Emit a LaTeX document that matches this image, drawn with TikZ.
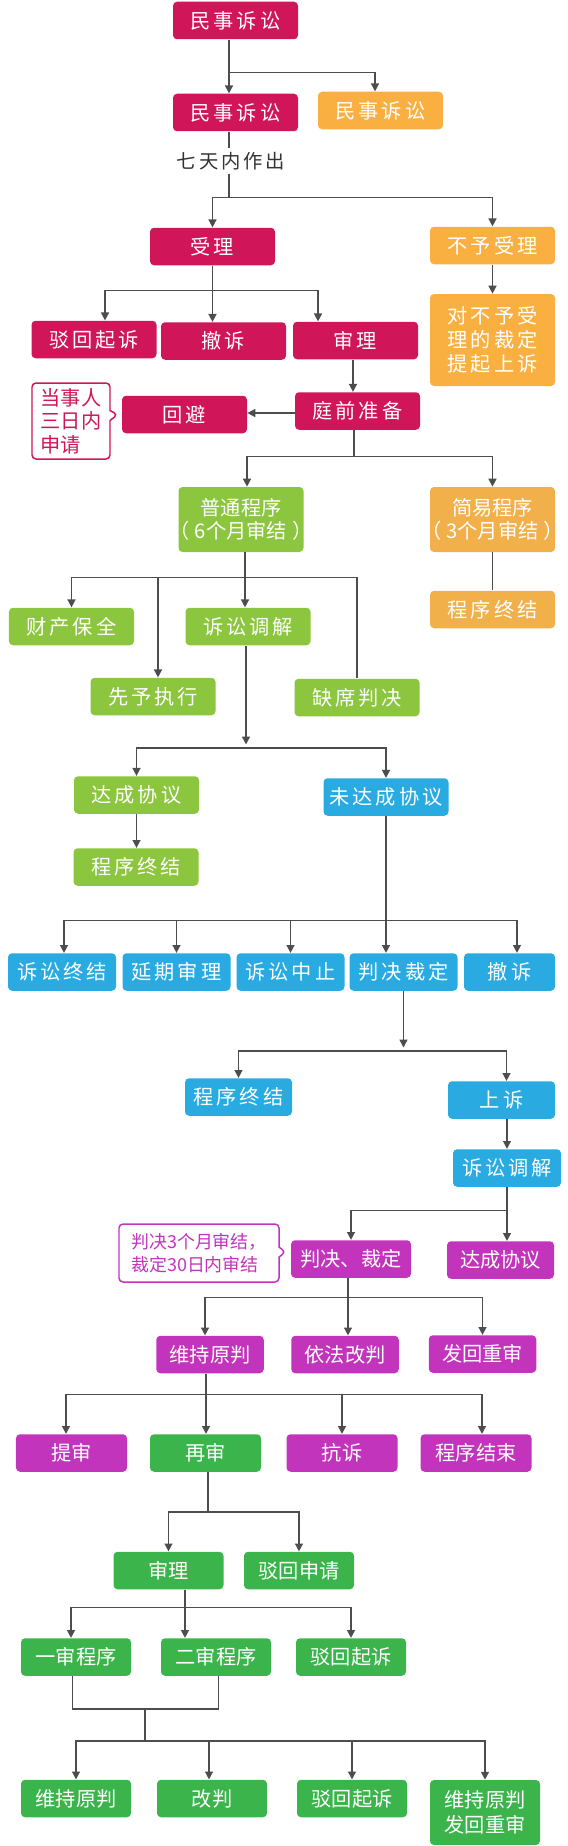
\documentclass[tikz,border=0pt]{standalone}
\usepackage{fontspec}
\newfontfamily\cjk[LetterSpace=15]{Noto Sans CJK SC}
\newfontfamily\cjkt{Noto Sans CJK SC}
\usetikzlibrary{arrows.meta, shapes.callouts}
\definecolor{crim}{HTML}{D01658}
\definecolor{orng}{HTML}{FAB041}
\definecolor{orngb}{HTML}{F1B04A}
\definecolor{lgrn}{HTML}{8CC63E}
\definecolor{blu}{HTML}{29ABE2}
\definecolor{mag}{HTML}{C334BD}
\definecolor{dgrn}{HTML}{3BB44C}
\definecolor{lgray}{HTML}{4D4D4D}
\definecolor{dgray}{HTML}{333333}

\begin{document}
\begin{tikzpicture}[
  box/.style={rounded corners=2.3pt, minimum height=0.75cm, inner sep=0pt,
              align=center, text=white, font=\cjk\fontsize{11.5}{13.5}\selectfont},
  boxt/.style={box, font=\cjkt\fontsize{11.5}{13.5}\selectfont},
  crbox/.style={box, fill=crim, minimum width=2.5cm},
  orbox/.style={box, fill=orng, minimum width=2.5cm},
  obbox/.style={boxt, fill=orngb, minimum width=2.5cm},
  lgbox/.style={box, fill=lgrn, minimum width=2.5cm},
  blbox/.style={box, fill=blu, minimum width=2.16cm},
  mgbox/.style={boxt, fill=mag, minimum width=2.15cm},
  dgbox/.style={boxt, fill=dgrn, minimum width=2.2cm},
  callnote/.style={rectangle callout, fill=white, line width=0.85pt, rounded corners=2.3pt,
                   callout pointer width=0.2cm, align=left, inner sep=0pt},
  lin/.style={line width=0.85pt, draw=lgray},
  arr/.style={lin, -{Triangle[length=4.5pt, width=4.5pt]}}
]
\useasboundingbox (0,0) rectangle (11.34,-36.92);

\node[crbox] (ms1) at (4.71,-0.41) {民事诉讼};
\node[crbox] (ms2) at (4.71,-2.25) {民事诉讼};
\node[orbox] (ms3) at (7.61,-2.21) {民事诉讼};
\node[font=\cjk\fontsize{11}{13}\selectfont, text=dgray, minimum height=0.5cm,
      inner sep=0pt] (qt) at (4.62,-3.22) {七天内作出};
\node[crbox] (sl) at (4.25,-4.93) {受理};
\node[orbox] (bysl) at (9.85,-4.91) {不予受理};
\node[crbox] (bh1) at (1.88,-6.79) {驳回起诉};
\node[crbox] (cs1) at (4.47,-6.82) {撤诉};
\node[crbox] (sl2) at (7.11,-6.81) {审理};
\node[orbox, minimum height=1.84cm] (ss0) at (9.85,-6.80) {对不予受\\理的裁定\\提起上诉};
\node[crbox] (tq) at (7.15,-8.22) {庭前准备};
\node[crbox] (hb) at (3.69,-8.29) {回避};
\node[callnote, draw=crim, text=crim, font=\cjkt\fontsize{11.5}{13.4}\selectfont,
      minimum width=1.56cm, minimum height=1.52cm,
      callout absolute pointer={([xshift=-0.08cm]hb.west)}] (dsr) at (1.42,-8.42)
     {当事人\\三日内\\申请};

\node[lgbox, minimum height=1.3cm, font=\cjkt\fontsize{11.5}{13}\selectfont] (pt) at (4.82,-10.39)
     {普通程序\\\makebox[2.3cm]{（\hspace{0.25em}6个月审结\hspace{0.25em}）}};
\node[obbox, minimum height=1.3cm, font=\cjkt\fontsize{11.5}{13}\selectfont] (jy) at (9.85,-10.39)
     {简易程序\\\makebox[2.3cm]{（\hspace{0.25em}3个月审结\hspace{0.25em}）}};
\node[orbox, fill=orngb] (zj0) at (9.85,-12.19) {程序终结};
\node[lgbox] (cc) at (1.43,-12.53) {财产保全};
\node[lgbox] (xy) at (3.06,-13.93) {先予执行};
\node[lgbox] (tj1) at (4.96,-12.53) {诉讼调解};
\node[lgbox] (qx) at (7.14,-13.95) {缺席判决};
\node[lgbox] (dc1) at (2.73,-15.90) {达成协议};
\node[blbox, minimum width=2.5cm] (wdc) at (7.72,-15.94) {未达成协议};
\node[lgbox] (zj1) at (2.72,-17.34) {程序终结};

\node[blbox] (zj2) at (1.24,-19.44) {诉讼终结};
\node[blbox] (yq) at (3.53,-19.44) {延期审理};
\node[blbox] (zz) at (5.81,-19.44) {诉讼中止};
\node[blbox] (pj1) at (8.07,-19.44) {判决裁定};
\node[blbox, minimum width=1.82cm] (cs2) at (10.19,-19.44) {撤诉};
\node[blbox, minimum width=2.14cm] (zj3) at (4.77,-21.94) {程序终结};
\node[blbox, minimum width=2.14cm] (ss) at (10.03,-22.00) {上诉};
\node[blbox] (tj2) at (10.14,-23.36) {诉讼调解};

\node[mgbox, minimum width=2.4cm] (pj2) at (7.02,-25.18) {判决、裁定};
\node[mgbox, minimum width=2.14cm] (dc2) at (10.01,-25.20) {达成协议};
\node[callnote, draw=mag, text=mag, font=\cjkt\fontsize{10.2}{12.9}\selectfont,
      minimum width=3.2cm, minimum height=1.16cm,
      callout absolute pointer={([xshift=-0.1cm, yshift=0.14cm]pj2.west)}] (sj) at (3.98,-25.06)
     {判决3个月审结，\\裁定30日内审结};
\node[mgbox] (wc1) at (4.20,-27.09) {维持原判};
\node[mgbox] (yf) at (6.90,-27.09) {依法改判};
\node[mgbox] (fh1) at (9.65,-27.08) {发回重审};
\node[mgbox, minimum width=2.22cm] (ts) at (1.43,-29.06) {提审};
\node[dgbox, minimum width=2.22cm] (zs) at (4.11,-29.06) {再审};
\node[mgbox, minimum width=2.22cm] (ks) at (6.84,-29.06) {抗诉};
\node[mgbox, minimum width=2.22cm] (js) at (9.52,-29.06) {程序结束};

\node[dgbox] (sl3) at (3.37,-31.41) {审理};
\node[dgbox] (bhsq) at (5.98,-31.41) {驳回申请};
\node[dgbox] (ys) at (1.52,-33.14) {一审程序};
\node[dgbox] (es) at (4.32,-33.14) {二审程序};
\node[dgbox] (bh2) at (7.02,-33.14) {驳回起诉};
\node[dgbox] (wc2) at (1.52,-35.97) {维持原判};
\node[dgbox] (gp) at (4.24,-35.97) {改判};
\node[dgbox] (bh3) at (7.04,-35.97) {驳回起诉};
\node[dgbox, minimum height=1.3cm, font=\cjkt\fontsize{11.5}{14.2}\selectfont] (fh2) at (9.70,-36.25)
     {维持原判\\发回重审};

\coordinate (m1) at (4.92,-14.96);
\coordinate (m2) at (8.07,-21.02);
\coordinate (m3) at (2.90,-34.18);
\coordinate (m4) at (2.90,-34.82);

\draw[arr] ([xshift=-0.13cm]ms1.south) -- ([xshift=-0.13cm]ms2.north);
\draw[arr] ([xshift=-0.13cm]ms1.south) -- ++(0,-0.66) -| ([xshift=-0.11cm]ms3.north);
\draw[lin] ([xshift=-0.13cm]ms2.south) -- ([xshift=-0.13cm]ms2.south |- qt.north);
\draw[arr] ([xshift=-0.13cm]ms2.south |- qt.south) -- ++(0,-0.47) -| (sl.north);
\draw[arr] ([xshift=-0.13cm]ms2.south |- qt.south) -- ++(0,-0.47) -| (bysl.north);
\draw[arr] (sl.south) -- (sl.south |- cs1.north);
\draw[arr] (sl.south) -- ++(0,-0.5) -| ([xshift=0.22cm]bh1.north);
\draw[arr] (sl.south) -- ++(0,-0.5) -| ([xshift=-0.75cm]sl2.north);
\draw[arr] (bysl.south) -- (ss0.north);
\draw[arr] ([xshift=-0.05cm]sl2.south) -- ([xshift=-0.05cm]sl2.south |- tq.north);
\draw[arr] ([yshift=-0.04cm]tq.west) -- ([yshift=-0.04cm]tq.west -| hb.east);
\draw[arr] ([xshift=-0.07cm]tq.south) -- ++(0,-0.53) -| ([xshift=0.12cm]pt.north);
\draw[arr] ([xshift=-0.07cm]tq.south) -- ++(0,-0.53) -| (jy.north);
\draw[lin] (jy.south) -- (zj0.north);

\draw[arr] ([xshift=0.08cm]pt.south) -- ++(0,-0.5) -| (cc.north);
\draw[arr] ([xshift=0.08cm]pt.south) -- ++(0,-0.5) -| ([xshift=0.1cm]xy.north);
\draw[arr] ([xshift=0.08cm]pt.south) -- ([xshift=0.08cm]pt.south |- tj1.north);
\draw[lin] ([xshift=0.08cm]pt.south) -- ++(0,-0.5) -| (qx.north);
\draw[arr] (tj1.south -| m1) -- ([yshift=0.07cm]m1);
\draw[arr] (m1) -| (dc1.north);
\draw[arr] (m1) -| (wdc.north);
\draw[arr] (dc1.south) -- (dc1.south |- zj1.north);

\draw[arr] (wdc.south) -- (wdc.south |- pj1.north);
\draw[arr] (wdc.south) -- ++(0,-2.09) -| ([xshift=0.04cm]zj2.north);
\draw[arr] (wdc.south) -- ++(0,-2.09) -| (yq.north);
\draw[arr] (wdc.south) -- ++(0,-2.09) -| (zz.north);
\draw[arr] (wdc.south) -- ++(0,-2.09) -| ([xshift=0.15cm]cs2.north);
\draw[arr] (pj1.south) -- ([yshift=0.07cm]m2);
\draw[arr] (m2) -| (zj3.north);
\draw[arr] (m2) -| ([xshift=0.1cm]ss.north);
\draw[arr] (tj2.north |- ss.south) -- (tj2.north);
\draw[arr] (tj2.south) -- (tj2.south |- dc2.north);
\draw[arr] (tj2.south) -- ++(0,-0.47) -| (pj2.north);

\draw[arr] ([xshift=-0.06cm]pj2.south) -- ([xshift=-0.06cm]pj2.south |- yf.north);
\draw[arr] ([xshift=-0.06cm]pj2.south) -- ++(0,-0.39) -| ([xshift=-0.1cm]wc1.north);
\draw[arr] ([xshift=-0.06cm]pj2.south) -- ++(0,-0.39) -| (fh1.north);
\draw[arr] ([xshift=-0.08cm]wc1.south) -- ([xshift=-0.08cm]wc1.south |- zs.north);
\draw[arr] ([xshift=-0.08cm]wc1.south) -- ++(0,-0.42) -| ([xshift=-0.11cm]ts.north);
\draw[arr] ([xshift=-0.08cm]wc1.south) -- ++(0,-0.42) -| (ks.north);
\draw[arr] ([xshift=-0.08cm]wc1.south) -- ++(0,-0.42) -| ([xshift=0.12cm]js.north);
\draw[arr] ([xshift=0.05cm]zs.south) -- ++(0,-0.8) -| (sl3.north);
\draw[arr] ([xshift=0.05cm]zs.south) -- ++(0,-0.8) -| (bhsq.north);

\draw[arr] ([xshift=0.33cm]sl3.south) -- ++(0,-0.36) -| ([xshift=-0.1cm]ys.north);
\draw[arr] ([xshift=0.33cm]sl3.south) -- ([xshift=0.33cm]sl3.south |- es.north);
\draw[arr] ([xshift=0.33cm]sl3.south) -- ++(0,-0.36) -| (bh2.north);
\draw[lin] ([xshift=-0.07cm]ys.south) |- (m3) -| ([xshift=0.05cm]es.south);
\draw[lin] (m3) -- (m4);
\draw[arr] (m4) -| (wc2.north);
\draw[arr] (m4) -| ([xshift=-0.06cm]gp.north);
\draw[arr] (m4) -| (bh3.north);
\draw[arr] (m4) -| (fh2.north);
\end{tikzpicture}
\end{document}
